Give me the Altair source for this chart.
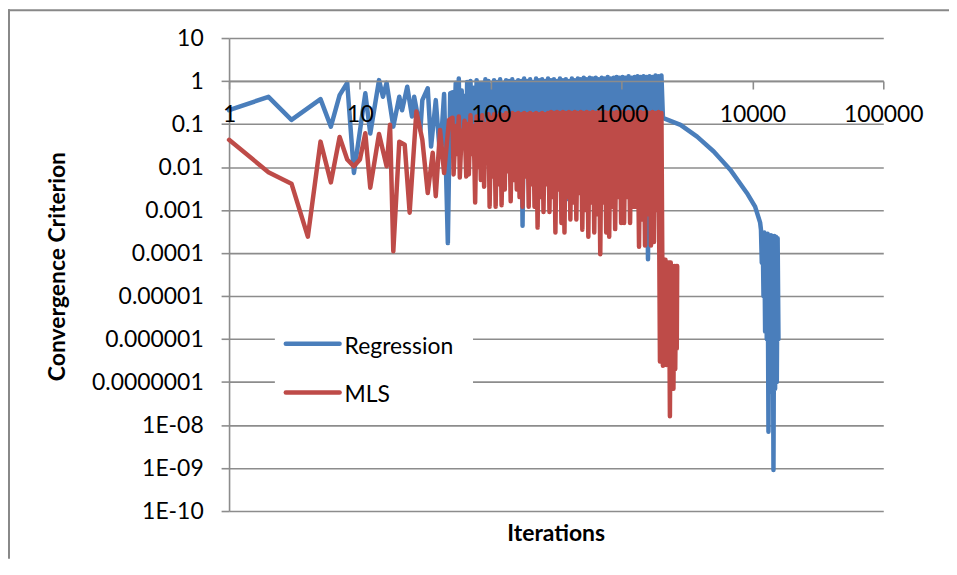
import json
import altair as alt
import pandas as pd

# ---------------- data ----------------
series_names = ["Regression", "MLS"]
series_colors = ["#4A7EBB", "#BE4B48"]

# early, sparse iterations
reg_early_iter = [1, 2, 3, 5, 6, 7, 8, 9, 11, 12, 14, 15, 16, 18, 20, 21, 23, 25, 26, 29, 30, 33, 35, 38, 41, 44,
                  47, 49]
reg_early_value = [0.21, 0.43, 0.125, 0.38, 0.087, 0.47, 0.91, 0.0073, 0.52, 0.06, 1.05, 0.43, 0.91, 0.087, 0.43,
                   0.21, 0.74, 0.15, 0.43, 0.073, 0.36, 0.68, 0.03, 0.36, 0.018, 0.5, 0.00017, 0.52]
mls_early_iter = [1, 2, 3, 4, 5, 6, 7, 8, 9, 10, 11, 12, 14, 16, 17, 18, 20, 22, 24, 27, 30, 33, 36, 38, 41, 44, 48]
mls_early_value = [0.043, 0.0076, 0.0041, 0.00024, 0.039, 0.0044, 0.05, 0.015, 0.0104, 0.015, 0.061, 0.0033, 0.059,
                   0.0104, 0.096, 0.00011, 0.039, 0.033, 0.00087, 0.195, 0.043, 0.0025, 0.0216, 0.0021, 0.073,
                   0.0073, 0.125]

# dense, oscillating part (iterations sampled, alternating peak / trough)
dense_iter = [51, 52, 54, 55, 57, 58, 60, 61, 63, 65,
              66, 68, 70, 72, 74, 76, 78, 80, 82, 84,
              86, 89, 91, 93, 96, 98, 101, 104, 106, 109,
              112, 115, 118, 121, 125, 128, 131, 135, 138, 142,
              146, 150, 154, 158, 162, 166, 171, 175, 180, 185,
              190, 195, 200, 205, 211, 216, 222, 228, 234, 240,
              247, 253, 260, 267, 274, 281, 289, 296, 304, 312,
              321, 329, 338, 347, 356, 366, 375, 385, 396, 406,
              417, 428, 439, 451, 463, 475, 488, 501, 514, 528,
              542, 557, 571, 587, 602, 618, 635, 652, 669, 687,
              705, 724, 743, 763, 783, 804, 825, 847, 870, 893,
              917, 941, 966, 992, 1018, 1045, 1073, 1102, 1131, 1161,
              1192, 1224, 1256, 1290, 1324, 1359, 1395, 1433, 1471, 1510,
              1550, 1591, 1634, 1677, 1722, 1768, 1815, 1863, 1913, 1964,
              2016, 2070]
reg_dense_value = [0.55, 0.03, 0.9, 0.05, 1.15, 0.04, 0.6, 0.05, 0.45, 0.03,
                   0.95, 0.05, 1.0, 0.08, 0.7, 0.04, 1.05, 0.03, 0.85, 0.05,
                   0.9, 0.04, 1.1, 0.05, 1.0, 0.04, 0.8, 0.03, 1.05, 0.05,
                   0.95, 0.03, 1.1, 0.05, 0.9, 0.04, 1.05, 0.05, 1.0, 0.04,
                   1.1, 0.03, 0.95, 0.05, 1.05, 0.04, 1.0, 0.00043, 1.15, 0.04,
                   1.0, 0.03, 1.1, 0.05, 0.95, 0.04, 1.15, 0.03, 1.05, 0.05,
                   1.1, 0.04, 1.0, 0.03, 1.15, 0.05, 1.05, 0.04, 1.1, 0.03,
                   1.0, 0.05, 1.15, 0.04, 1.05, 0.03, 1.1, 0.0018, 1.0, 0.04,
                   1.15, 0.05, 1.05, 0.03, 1.15, 0.04, 1.1, 0.05, 1.2, 0.03,
                   1.1, 0.04, 1.2, 0.05, 1.15, 0.03, 1.2, 0.04, 1.1, 0.05,
                   1.2, 0.03, 1.15, 0.04, 1.25, 0.05, 1.15, 0.03, 1.2, 0.04,
                   1.25, 0.05, 1.2, 0.03, 1.25, 0.04, 1.2, 0.05, 1.3, 0.03,
                   1.2, 0.04, 1.25, 0.05, 1.3, 0.03, 1.25, 0.04, 1.3, 0.05,
                   1.25, 0.000072, 1.3, 0.04, 1.25, 0.03, 1.35, 0.05, 1.3, 0.04,
                   1.35, 0.14]
mls_dense_value = [0.14, 0.0067, 0.09, 0.02, 0.15, 0.0057, 0.07, 0.03, 0.12, 0.006,
                   0.1, 0.0067, 0.16, 0.02, 0.09, 0.0015, 0.15, 0.01, 0.12, 0.005,
                   0.16, 0.0035, 0.1, 0.015, 0.17, 0.0012, 0.14, 0.006, 0.17, 0.0012,
                   0.15, 0.004, 0.17, 0.0013, 0.16, 0.003, 0.18, 0.008, 0.16, 0.0016,
                   0.18, 0.005, 0.17, 0.003, 0.18, 0.002, 0.17, 0.0012, 0.18, 0.006,
                   0.17, 0.0012, 0.18, 0.004, 0.17, 0.0012, 0.18, 0.00039, 0.17, 0.002,
                   0.18, 0.0009, 0.17, 0.004, 0.18, 0.0009, 0.19, 0.002, 0.18, 0.0003,
                   0.19, 0.003, 0.18, 0.0005, 0.19, 0.0003, 0.18, 0.002, 0.19, 0.0006,
                   0.18, 0.0015, 0.19, 0.0006, 0.18, 0.0025, 0.19, 0.00035, 0.18, 0.001,
                   0.19, 0.00024, 0.18, 0.0015, 0.19, 0.0003, 0.18, 0.0008, 0.19, 0.000094,
                   0.18, 0.0015, 0.19, 0.0003, 0.18, 0.00024, 0.19, 0.0012, 0.18, 0.00036,
                   0.19, 0.002, 0.18, 0.0005, 0.19, 0.0005, 0.18, 0.002, 0.19, 0.0005,
                   0.18, 0.0012, 0.19, 0.0012, 0.18, 0.00014, 0.19, 0.0006, 0.18, 0.00015,
                   0.19, 0.0008, 0.18, 0.00015, 0.19, 0.00018, 0.18, 0.001, 0.19, 3e-07,
                   0.18, 2.4e-07]

# late part: smooth decay then collapse (Regression), collapse (MLS)
reg_late_iter = [2085, 2820, 3776, 5060, 6765, 9065, 10480, 11450,
                 11620, 11790, 11970, 12150, 12320, 12500, 12680, 12870, 13060, 13260, 13450, 13650, 13850,
                 14060, 14270, 14480, 14690, 14900, 15120, 15350, 15580, 15810]
reg_late_value = [0.137, 0.096, 0.051, 0.023, 0.0087, 0.0025, 0.0012, 0.00051,
                  0.00035, 6e-05, 0.0003, 1e-05, 0.0003, 1.5e-06, 0.00028, 1e-06, 0.00028, 7e-09, 0.00026, 1e-07,
                  0.00026, 6e-08, 0.00025, 9e-10, 0.00025, 7e-08, 0.00024, 1e-07, 0.00022, 1e-06]
mls_late_iter = [2100, 2130, 2165, 2200, 2235, 2270, 2305, 2340, 2375, 2410, 2450, 2490, 2530, 2570, 2610, 2640,
                 2660]
mls_late_value = [7e-05, 3e-07, 7e-05, 2.5e-07, 6e-05, 3e-07, 6e-05, 1.6e-08, 6e-05, 1e-07, 5e-05, 7e-08, 5e-05,
                  2e-07, 5e-05, 6e-07, 5e-05]

y_ticks = [1e-10, 1e-9, 1e-8, 1e-7, 1e-6, 1e-5, 1e-4, 1e-3, 1e-2, 1e-1, 1, 10]
y_tick_labels = ["1E-10", "1E-09", "1E-08", "0.0000001", "0.000001", "0.00001", "0.0001", "0.001", "0.01", "0.1",
                 "1", "10"]
x_ticks = [1, 10, 100, 1000, 10000, 100000]
x_tick_labels = ["1", "10", "100", "1000", "10000", "100000"]

# ---------------- tables ----------------
reg_df = pd.DataFrame({"iter": reg_early_iter + dense_iter + reg_late_iter,
                       "value": reg_early_value + reg_dense_value + reg_late_value})
reg_df["series"] = series_names[0]
reg_df["order"] = range(len(reg_df))
mls_df = pd.DataFrame({"iter": mls_early_iter + dense_iter + mls_late_iter,
                       "value": mls_early_value + mls_dense_value + mls_late_value})
mls_df["series"] = series_names[1]
mls_df["order"] = range(len(mls_df))

W, H = 657, 475
PAD_R = 66
FONT = "Lato"
GRID = "#8C8C8C"

x_scale = alt.Scale(type="log", domain=[1, 100000], nice=False)
y_scale = alt.Scale(type="log", domain=[1e-10, 10], nice=False)
color_scale = alt.Scale(domain=series_names, range=series_colors)

y_expr = json.dumps(y_tick_labels) + "[round(log(datum.value)/LN10)+10]"
x_expr = json.dumps(x_tick_labels) + "[round(log(datum.value)/LN10)]"

x_axis = alt.Axis(values=x_ticks, labelExpr=x_expr, grid=False, orient="bottom", offset=-H * 10 / 11,
                  domainColor=GRID, domainWidth=1.6, tickColor=GRID, tickWidth=1.6, tickSize=8,
                  labelFont=FONT, labelFontSize=23, labelColor="black", labelPadding=15,
                  labelFlush=False, labelOverlap=False, title=None, zindex=1)
y_axis = alt.Axis(values=y_ticks, labelExpr=y_expr, grid=True, gridColor=GRID, gridWidth=1.6,
                  domainColor=GRID, domainWidth=1.6, tickColor=GRID, tickWidth=1.6, tickSize=8,
                  labelFont=FONT, labelFontSize=23, labelColor="black", labelPadding=18,
                  labelOverlap=False, title="Convergence Criterion", titleFont=FONT, titleFontSize=23,
                  titleFontWeight="bold", titleColor="black", titleAngle=270, titleAlign="center",
                  titleBaseline="middle", titleX=-172, titleY=229)

line_kw = dict(strokeWidth=4.5, strokeCap="round", strokeJoin="round")


def series_line(df):
    return alt.Chart(df).mark_line(**line_kw).encode(
        x=alt.X("iter:Q", scale=x_scale, axis=x_axis),
        y=alt.Y("value:Q", scale=y_scale, axis=y_axis),
        color=alt.Color("series:N", scale=color_scale, legend=None),
        order=alt.Order("order:Q"),
    )


reg_line = series_line(reg_df)
mls_line = series_line(mls_df)

# ---------------- legend (inside plot) ----------------
leg_df = pd.DataFrame({"series": series_names})
leg_box = alt.Chart(leg_df.head(1)).mark_rect(color="white").encode(
    x=alt.value(46), x2=alt.value(245), y=alt.value(283), y2=alt.value(380))
leg_sym = []
leg_txt = []
for i, name in enumerate(series_names):
    yy = 307 + 49 * i
    leg_sym.append(alt.Chart(leg_df.iloc[[i]]).mark_rule(strokeWidth=4.5, strokeCap="round").encode(
        x=alt.value(57), x2=alt.value(111), y=alt.value(yy),
        color=alt.Color("series:N", scale=color_scale, legend=None)))
    leg_txt.append(alt.Chart(leg_df.iloc[[i]]).mark_text(
        font=FONT, fontSize=23, align="left", baseline="middle", color="black").encode(
        x=alt.value(116), y=alt.value(yy + 3), text="series:N"))

# ---------------- x title and outer frame (top and left edges only) ----------------
title_df = pd.DataFrame({"t": ["Iterations"]})
x_title = alt.Chart(title_df).mark_text(font=FONT, fontSize=23, fontWeight="bold", color="black",
                                        align="center", baseline="alphabetic").encode(
    x=alt.value(W / 2), y=alt.value(505), text="t:N")
frame_top = alt.Chart(title_df).mark_rule(color="#888888", strokeWidth=2).encode(
    x=alt.value(-222), x2=alt.value(W + PAD_R), y=alt.value(-28))
frame_left = alt.Chart(title_df).mark_rule(color="#888888", strokeWidth=2).encode(
    x=alt.value(-221), y=alt.value(-29), y2=alt.value(H + 48))

chart = alt.layer(
    reg_line, mls_line, leg_box, *leg_sym, *leg_txt, x_title, frame_top, frame_left
).properties(
    width=W, height=H,
    autosize=alt.AutoSizeParams(type="none"),
    padding={"left": 222, "top": 29, "right": PAD_R, "bottom": 48},
    background="white",
).configure_view(stroke=None)

chart.save("out.html", embed_options={"renderer": "svg", "actions": False})
